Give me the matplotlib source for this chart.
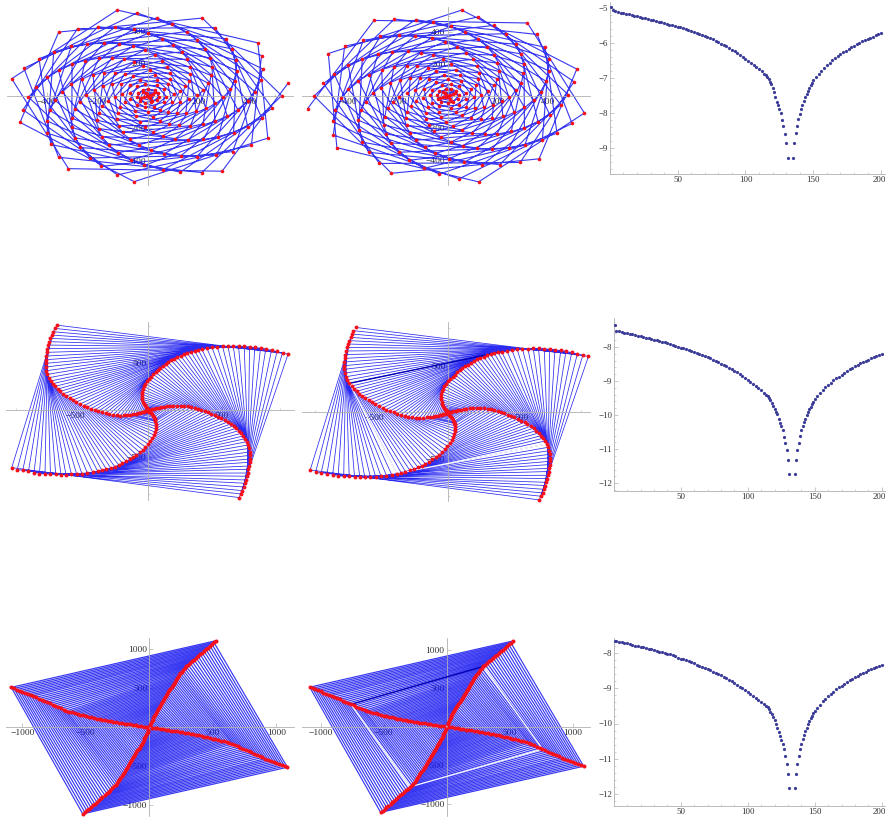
import numpy as np
import matplotlib
matplotlib.use("Agg")
import matplotlib.pyplot as plt
from matplotlib.ticker import FixedLocator
from matplotlib.transforms import ScaledTranslation

plt.rcParams['font.family'] = ['Liberation Serif', 'DejaVu Serif']

# ---------- Row 1, left: arms of the rosette, polar readings (radius, degrees), outer to inner
r1a_E_r = [556,525,494,467,435,405,375,345,315,285,255,225,195,165,135,105,75,45]
r1a_E_d = [8,0,-9,-17,-26,-34,-43,-51,-60,-68,-77,-85,-94,-102,-111,-119,-128,-136]
r1a_S_r = [532,502,473,447,416,388,359,330,301,273,244,215,187,158,129,100,72,43]
r1a_S_d = [-96,-104,-113,-121,-130,-138,-147,-155,-164,-172,-181,-189,-198,-206,-215,-223,-232,-240]
r1a_W_r = [548,518,487,460,429,399,370,340,311,281,251,222,192,163,133,104,74,44]
r1a_W_d = [169,161,152,144,135,127,118,110,101,93,84,76,67,59,50,42,33,25]
r1a_f_r = [523,494,465,439,409,381,353,325,296,268,240,212,183,155,127,99,71,42]
r1a_f_d = [66,58,49,41,32,24,15,7,-2,-10,-19,-27,-36,-44,-53,-61,-70,-78]
r1a_a_r = [538,508,478,452,421,392,363,334,305,276,247,218,189,160,131,102,73,44]
r1a_a_d = [-29,-37,-46,-54,-63,-71,-80,-88,-97,-105,-114,-122,-131,-139,-148,-156,-165,-173]
r1a_c_r = [548,518,487,460,429,399,370,340,311,281,251,222,192,163,133,104,74,44]
r1a_c_d = [-125,-133,-142,-150,-159,-167,-176,-184,-193,-201,-210,-218,-227,-235,-244,-252,-261,-269]
r1a_e_r = [527,498,468,443,412,384,356,327,299,270,242,213,185,156,128,100,71,43]
r1a_e_d = [132,124,115,107,98,90,81,73,64,56,47,39,30,22,13,5,-4,-12]
r1a_g_r = [540,510,480,453,422,393,364,335,306,277,248,218,189,160,131,102,73,44]
r1a_g_d = [37,29,20,12,3,-5,-14,-22,-31,-39,-48,-56,-65,-73,-82,-90,-99,-107]
r1a_b_r = [548,518,487,460,429,399,370,340,311,281,251,222,192,163,133,104,74,44]
r1a_b_d = [-58,-66,-75,-83,-92,-100,-109,-117,-126,-134,-143,-151,-160,-168,-177,-185,-194,-202]
r1a_d_r = [531,501,472,446,415,387,358,329,301,272,244,215,186,158,129,100,72,43]
r1a_d_d = [-162,-170,-179,-187,-196,-204,-213,-221,-230,-238,-247,-255,-264,-272,-281,-289,-298,-306]
r1a_N_r = [541,511,481,454,423,394,365,336,306,277,248,219,190,161,131,102,73,44]
r1a_N_d = [103,95,86,78,69,61,52,44,35,27,18,10,1,-7,-16,-24,-33,-41]

# ---------- Row 1, middle
r1b_A9_r = [566,534,503,475,443,412,382,351,321,290,260,229,199,168,137,107,76,46]
r1b_A9_d = [-172,-180,-189,-197,-206,-214,-223,-231,-240,-248,-257,-265,-274,-282,-291,-299,-308,-316]
r1b_A1_r = [539,509,479,453,422,393,364,334,305,276,247,218,189,160,131,102,73,44]
r1b_A1_d = [84,76,67,59,50,42,33,25,16,8,-1,-9,-18,-26,-35,-43,-52,-60]
r1b_A4_r = [557,526,495,468,436,406,376,346,316,286,256,226,195,165,135,105,75,45]
r1b_A4_d = [-11,-19,-28,-36,-45,-53,-62,-70,-79,-87,-96,-104,-113,-121,-130,-138,-147,-155]
r1b_A7_r = [532,502,473,447,416,388,359,330,301,273,244,215,187,158,129,100,72,43]
r1b_A7_d = [-115,-123,-132,-140,-149,-157,-166,-174,-183,-191,-200,-208,-217,-225,-234,-242,-251,-259]
r1b_A10_r = [546,516,485,459,427,398,368,339,309,280,250,221,191,162,133,103,74,44]
r1b_A10_d = [151,143,134,126,117,109,100,92,83,75,66,58,49,41,32,24,15,7]
r1b_A2_r = [556,525,494,467,435,405,375,345,315,285,255,225,195,165,135,105,75,45]
r1b_A2_d = [55,47,38,30,21,13,4,-4,-13,-21,-30,-38,-47,-55,-64,-72,-81,-89]
r1b_A5_r = [536,506,476,450,419,390,362,333,304,275,246,217,188,159,130,101,72,43]
r1b_A5_d = [-47,-55,-64,-72,-81,-89,-98,-106,-115,-123,-132,-140,-149,-157,-166,-174,-183,-191]
r1b_A8_r = [548,518,487,460,429,399,370,340,311,281,251,222,192,163,133,104,74,44]
r1b_A8_d = [-144,-152,-161,-169,-178,-186,-195,-203,-212,-220,-229,-237,-246,-254,-263,-271,-280,-288]
r1b_A11_r = [556,525,494,467,435,405,375,345,315,285,255,225,195,165,135,105,75,45]
r1b_A11_d = [122,114,105,97,88,80,71,63,54,46,37,29,20,12,3,-5,-14,-22]
r1b_A3_r = [543,513,482,456,425,396,366,337,308,278,249,220,190,161,132,103,73,44]
r1b_A3_d = [18,10,1,-7,-16,-24,-33,-41,-50,-58,-67,-75,-84,-92,-101,-109,-118,-126]
r1b_A6_r = [550,519,489,462,430,401,371,341,312,282,252,223,193,163,134,104,74,45]
r1b_A6_d = [-77,-85,-94,-102,-111,-119,-128,-136,-145,-153,-162,-170,-179,-187,-196,-204,-213,-221]

core_x = [28,-20,-30,15,20,-10,-18,8,10,-6,-7,3,0]
core_y = [20,25,-15,-30,12,18,-8,-16,6,8,-4,-6,0]

# ---------- Row 2: four arms, tip to centre
r2_NW_x = [-624,-638,-649,-658,-667,-674,-681,-688,-692,-697,-699,-699,-699,-695,-688,-679,-665,-651,-636,-617,-599,-579,-558,-536,-513,-490,-465,-440,-415,-390,-365,-341,-316,-291,-266,-241,-216,-191,-166,-143,-123,-102,-84,-68,-54,-41,-30,-20,-11,-5]
r2_NW_y = [910,875,839,803,768,732,696,657,618,578,539,500,461,421,382,346,311,282,253,225,200,175,150,129,107,86,64,46,29,14,0,-14,-25,-36,-46,-54,-57,-61,-57,-54,-50,-46,-39,-36,-29,-25,-18,-14,-7,-4]
r2_NE_x = [953,915,878,840,801,765,726,690,654,615,579,543,506,470,434,400,365,341,316,291,266,243,220,197,177,157,136,118,100,82,66,50,34,18,2,-11,-23,-32,-39,-43,-45,-45,-41,-36,-30,-23,-16,-11,-7,-2]
r2_NE_y = [600,614,628,643,657,664,671,678,682,685,685,682,682,675,671,660,650,643,632,621,610,596,582,568,550,532,510,493,471,450,428,403,382,357,332,307,282,253,225,196,168,139,114,89,68,50,36,25,18,11]
r2_SE_x = [620,633,642,649,658,665,672,679,683,688,692,695,695,692,688,681,672,661,647,633,617,599,581,561,540,520,497,474,452,429,406,384,361,338,316,293,270,245,220,195,170,148,127,107,89,70,54,39,25,11]
r2_SE_y = [-939,-900,-864,-825,-785,-750,-710,-675,-635,-600,-560,-525,-486,-450,-411,-375,-339,-307,-278,-250,-221,-196,-171,-150,-129,-107,-89,-71,-54,-39,-25,-11,4,14,25,32,39,43,46,46,46,43,39,32,29,25,18,14,7,4]
r2_SW_x = [-931,-894,-856,-817,-779,-742,-704,-667,-631,-595,-561,-524,-488,-452,-415,-379,-345,-316,-286,-257,-229,-202,-177,-152,-127,-104,-82,-59,-39,-20,-2,14,27,39,45,50,52,52,48,45,43,36,30,23,16,11,7,5,2,0]
r2_SW_y = [-618,-639,-646,-657,-671,-682,-682,-685,-689,-693,-696,-689,-689,-685,-678,-668,-657,-646,-635,-621,-607,-589,-571,-550,-528,-503,-478,-453,-425,-396,-364,-332,-300,-268,-236,-203,-175,-146,-121,-111,-100,-79,-61,-46,-36,-25,-18,-11,-7,-4]
r2_marked_ring = 16

# ---------- Row 3: two arms, tip to centre (the other two are their point reflections)
r3_A_x = [524,509,493,478,462,446,431,415,400,384,369,352,336,321,306,291,278,266,255,245,236,227,218,210,201,192,183,175,166,158,150,142,134,127,119,111,102,93,84,75,66,58,51,45,38,32,26,20,14,8]
r3_A_y = [1110,1088,1066,1044,1022,1000,978,956,934,912,890,868,846,824,802,780,758,736,714,692,670,648,626,604,582,560,538,516,494,472,450,428,406,384,362,340,318,296,274,252,230,208,186,164,142,120,98,76,54,32]
r3_B_x = [-1087,-1065,-1043,-1021,-1000,-978,-956,-934,-913,-891,-869,-847,-826,-804,-782,-760,-739,-717,-695,-673,-652,-630,-608,-586,-565,-543,-521,-499,-478,-456,-434,-412,-391,-369,-347,-325,-304,-282,-260,-238,-217,-195,-173,-151,-130,-108,-86,-64,-43,-21]
r3_B_y = [512,498,484,470,456,442,428,415,402,385,369,353,338,322,306,290,275,259,243,227,211,200,190,181,172,163,154,145,136,128,120,112,105,98,91,84,77,71,65,59,53,47,42,37,32,26,20,15,10,5]
r3_marked_ring = 15

# ---------- Right column: log error against iteration
iter_x = [1,2,4,6,8,10,12,14,16,18,20,22,24,26,28,30,32,34,36,38,40,42,44,46,48,50,52,54,56,58,60,62,64,66,68,70,72,74,76,78,80,82,84,86,88,90,92,94,96,98,100,102,104,106,108,110,112,114,
          115,116,117,118,119,120,121,122,123,124,125,126,127,128,129,130,131,
          135,136,137,138,139,140,141,142,143,144,145,146,147,148,149,150,
          152,154,156,158,160,162,164,166,168,170,172,174,176,178,180,182,184,186,188,190,192,194,196,198,200]
err_1 = [-4.98,-5.07,-5.10,-5.12,-5.14,-5.16,-5.17,-5.19,-5.21,-5.23,-5.25,-5.26,-5.28,-5.30,-5.32,-5.34,-5.36,-5.38,-5.40,-5.42,-5.44,-5.46,-5.48,-5.50,-5.52,-5.54,-5.56,-5.58,-5.61,-5.63,-5.66,-5.68,-5.71,-5.74,-5.77,-5.80,-5.83,-5.87,-5.90,-5.94,-5.98,-6.02,-6.06,-6.10,-6.14,-6.19,-6.24,-6.29,-6.34,-6.40,-6.45,-6.51,-6.57,-6.63,-6.69,-6.74,-6.80,-6.88,
         -6.92,-6.97,-7.03,-7.10,-7.18,-7.27,-7.39,-7.53,-7.67,-7.77,-7.88,-8.00,-8.18,-8.36,-8.58,-8.86,-9.28,
         -9.28,-8.86,-8.56,-8.35,-8.17,-8.01,-7.88,-7.76,-7.65,-7.55,-7.45,-7.36,-7.28,-7.20,-7.13,-7.06,
         -6.97,-6.88,-6.80,-6.72,-6.64,-6.57,-6.50,-6.44,-6.38,-6.32,-6.27,-6.22,-6.17,-6.12,-6.08,-6.04,-6.00,-5.96,-5.92,-5.88,-5.85,-5.82,-5.79,-5.76,-5.73]
err_2 = [-7.36,-7.53,-7.54,-7.56,-7.58,-7.60,-7.62,-7.63,-7.65,-7.67,-7.69,-7.71,-7.73,-7.75,-7.77,-7.79,-7.81,-7.83,-7.85,-7.87,-7.89,-7.91,-7.93,-7.96,-7.99,-8.02,-8.04,-8.07,-8.09,-8.12,-8.15,-8.18,-8.21,-8.24,-8.27,-8.31,-8.34,-8.38,-8.41,-8.45,-8.49,-8.53,-8.57,-8.61,-8.66,-8.70,-8.75,-8.80,-8.85,-8.91,-8.96,-9.02,-9.08,-9.14,-9.21,-9.27,-9.34,-9.41,
         -9.44,-9.50,-9.56,-9.64,-9.72,-9.81,-9.90,-9.98,-10.10,-10.22,-10.32,-10.44,-10.63,-10.81,-11.03,-11.32,-11.72,
         -11.72,-11.32,-11.03,-10.81,-10.62,-10.45,-10.32,-10.20,-10.10,-10.00,-9.92,-9.83,-9.75,-9.68,-9.61,-9.54,
         -9.44,-9.35,-9.27,-9.19,-9.12,-9.05,-8.98,-8.92,-8.87,-8.81,-8.76,-8.71,-8.66,-8.61,-8.57,-8.52,-8.48,-8.44,-8.40,-8.37,-8.33,-8.30,-8.27,-8.24,-8.21]
err_3 = [-7.64,-7.66,-7.68,-7.69,-7.71,-7.72,-7.74,-7.76,-7.78,-7.79,-7.81,-7.83,-7.85,-7.87,-7.89,-7.91,-7.93,-7.95,-7.97,-7.99,-8.01,-8.03,-8.06,-8.09,-8.12,-8.15,-8.17,-8.20,-8.23,-8.26,-8.29,-8.32,-8.35,-8.38,-8.41,-8.45,-8.48,-8.52,-8.55,-8.59,-8.63,-8.67,-8.71,-8.76,-8.80,-8.85,-8.90,-8.95,-9.00,-9.05,-9.10,-9.16,-9.22,-9.28,-9.34,-9.40,-9.45,-9.50,
         -9.54,-9.60,-9.67,-9.74,-9.82,-9.90,-10.01,-10.12,-10.23,-10.36,-10.47,-10.59,-10.74,-10.92,-11.15,-11.45,-11.83,
         -11.83,-11.45,-11.15,-10.93,-10.74,-10.58,-10.45,-10.33,-10.22,-10.12,-10.02,-9.93,-9.85,-9.78,-9.71,-9.65,
         -9.55,-9.46,-9.37,-9.29,-9.22,-9.15,-9.09,-9.03,-8.97,-8.92,-8.87,-8.82,-8.77,-8.72,-8.68,-8.64,-8.60,-8.56,-8.52,-8.48,-8.45,-8.42,-8.39,-8.36,-8.33]

# ---------- styling
W, H = 887, 817
BLUE = '#1414f0'
RED = '#f5101c'
DOT = '#3c3c99'
AXC = '#b0b0b0'
TXT = '#333333'
fig = plt.figure(figsize=(W / 100, H / 100), dpi=100)


def make_axes(l, r, t, b, ox, oy, sx, sy):
    ax = fig.add_axes([l / W, 1 - b / H, (r - l) / W, (b - t) / H])
    ax.set_xlim((l - ox) / sx, (r - ox) / sx)
    ax.set_ylim((oy - b) / sy, (oy - t) / sy)
    ax.patch.set_alpha(0)
    for s in ('top', 'right'):
        ax.spines[s].set_visible(False)
    for s in ('left', 'bottom'):
        ax.spines[s].set_color(AXC)
        ax.spines[s].set_linewidth(0.6)
    ax.set_axisbelow(True)
    return ax


def style_ticks(ax, xmaj, ymaj, xmin, ymin):
    ax.xaxis.set_major_locator(FixedLocator(xmaj))
    ax.yaxis.set_major_locator(FixedLocator(ymaj))
    ax.xaxis.set_minor_locator(FixedLocator(xmin))
    ax.yaxis.set_minor_locator(FixedLocator(ymin))
    ax.tick_params(which='major', direction='in', length=3, width=0.5, color=AXC, labelsize=6.8,
                   labelcolor=TXT, pad=1.5)
    ax.tick_params(which='minor', direction='in', length=1.5, width=0.4, color=AXC)


def centre_axes(*geom, xmaj, ymaj, xmin, ymin):
    ax = make_axes(*geom)
    ax.spines['left'].set_position(('data', 0))
    ax.spines['bottom'].set_position(('data', 0))
    style_ticks(ax, xmaj, ymaj, xmin, ymin)
    return ax


def polar_path(arms):
    xs, ys = [], []
    for j in range(len(arms[0][0])):
        for r, d in arms:
            t = np.deg2rad(d[j])
            xs.append(r[j] * np.cos(t))
            ys.append(r[j] * np.sin(t))
    return np.array(xs + core_x), np.array(ys + core_y)


def draw_path(ax, xs, ys, lw, ms, alpha=0.85):
    ax.plot(xs, ys, color=BLUE, lw=lw, alpha=alpha, zorder=2, clip_on=False, solid_joinstyle='miter')
    ax.plot(xs, ys, ls='none', marker='o', ms=ms, color=RED, mew=0, zorder=5, clip_on=False)


def ring_path(arms):
    xs, ys = [], []
    for j in range(len(arms[0][0])):
        for ax_, ay_ in arms:
            xs.append(ax_[j])
            ys.append(ay_[j])
    return np.array(xs), np.array(ys)


def mark_ring(ax, arms, k, white_sides):
    pts = [(a[0][k], a[1][k]) for a in arms]
    p, q = pts[0], pts[1]
    ax.plot([p[0], q[0]], [p[1], q[1]], color='#0000b4', lw=1.0, zorder=3)
    for i in white_sides:
        p, q = pts[i], pts[(i + 1) % 4]
        ax.plot([p[0], q[0]], [p[1], q[1]], color='white', lw=0.9, zorder=3)


# ---------- row 1
x1, x2 = [-400, -200, 200, 400], [-400, -200, 200, 400]
mn1 = [-500, -300, -100, 100, 300, 500]
ax = centre_axes(7, 293, 7, 185, 148.3, 95.7, 0.254, 0.1625, xmaj=x1, ymaj=x2, xmin=mn1, ymin=mn1)
arms = [(r1a_E_r, r1a_E_d), (r1a_b_r, r1a_b_d), (r1a_c_r, r1a_c_d), (r1a_W_r, r1a_W_d),
        (r1a_N_r, r1a_N_d), (r1a_g_r, r1a_g_d), (r1a_a_r, r1a_a_d), (r1a_S_r, r1a_S_d),
        (r1a_d_r, r1a_d_d), (r1a_e_r, r1a_e_d), (r1a_f_r, r1a_f_d)]
draw_path(ax, *polar_path(arms), 0.8, 2.6)

ax = centre_axes(302, 590, 7, 185, 447.7, 96, 0.25, 0.1603, xmaj=x1, ymaj=x2, xmin=mn1, ymin=mn1)
arms = [(r1b_A9_r, r1b_A9_d), (r1b_A11_r, r1b_A11_d), (r1b_A2_r, r1b_A2_d), (r1b_A4_r, r1b_A4_d),
        (r1b_A6_r, r1b_A6_d), (r1b_A8_r, r1b_A8_d), (r1b_A10_r, r1b_A10_d), (r1b_A1_r, r1b_A1_d),
        (r1b_A3_r, r1b_A3_d), (r1b_A5_r, r1b_A5_d), (r1b_A7_r, r1b_A7_d)]
draw_path(ax, *polar_path(arms), 0.8, 2.6)

# ---------- row 2
r2_arms = [(r2_NW_x, r2_NW_y), (r2_NE_x, r2_NE_y), (r2_SE_x, r2_SE_y), (r2_SW_x, r2_SW_y)]
t2, m2 = [-500, 500], [-900, 900]
ax = centre_axes(6, 294, 322, 500, 148.3, 410, 0.1467, 0.0933, xmaj=t2, ymaj=t2, xmin=m2, ymin=m2)
draw_path(ax, *ring_path(r2_arms), 0.55, 2.8, alpha=0.9)
ax = centre_axes(302, 590, 322, 501, 447.7, 412.3, 0.1477, 0.0933, xmaj=t2, ymaj=t2, xmin=m2, ymin=m2)
draw_path(ax, *ring_path(r2_arms), 0.55, 2.8, alpha=0.9)
mark_ring(ax, r2_arms, r2_marked_ring, [2, 3])

# ---------- row 3
r3_arms = [(r3_A_x, r3_A_y), (r3_B_x, r3_B_y),
           (np.negative(r3_A_x), np.negative(r3_A_y)), (np.negative(r3_B_x), np.negative(r3_B_y))]
t3, m3 = [-1000, -500, 500, 1000], []
ax = centre_axes(6, 294, 638, 816, 149.3, 727.3, 0.127, 0.078, xmaj=t3, ymaj=t3, xmin=m3, ymin=m3)
draw_path(ax, *ring_path(r3_arms), 0.85, 2.9, alpha=0.85)
ax = centre_axes(302, 590, 638, 816, 446.7, 726.7, 0.126, 0.0772, xmaj=t3, ymaj=t3, xmin=m3, ymin=m3)
draw_path(ax, *ring_path(r3_arms), 0.85, 2.9, alpha=0.85)
mark_ring(ax, r3_arms, r3_marked_ring, [1, 2, 3])

# ---------- right column
xt = [50, 100, 150, 200]
xm = [v for v in range(10, 201, 10) if v not in xt]
specs = [
    (err_1, (610, 885, 2, 174.3, 609.8, -168.15, 1.3567, 35.17), [-5, -6, -7, -8, -9],
     [-5.2, -5.4, -5.6, -5.8, -6.2, -6.4, -6.6, -6.8, -7.2, -7.4, -7.6, -7.8, -8.2, -8.4, -8.6, -8.8, -9.2, -9.4, -9.6]),
    (err_2, (614.3, 885, 318, 491, 613.7, 74.1, 1.34, 34.1), [-8, -9, -10, -11, -12],
     [-7.6, -7.8, -8.2, -8.4, -8.6, -8.8, -9.2, -9.4, -9.6, -9.8, -10.2, -10.4, -10.6, -10.8, -11.2, -11.4, -11.6, -11.8, -12.2]),
    (err_3, (614.3, 885, 638, 805.7, 613.7, 372.5, 1.34, 35.1), [-8, -9, -10, -11, -12],
     [-7.8, -8.2, -8.4, -8.6, -8.8, -9.2, -9.4, -9.6, -9.8, -10.2, -10.4, -10.6, -10.8, -11.2, -11.4, -11.6, -11.8, -12.2]),
]
for series, geom, yt, ym in specs:
    ax = make_axes(*geom)
    style_ticks(ax, xt, yt, xm, ym)
    ax.tick_params(which='major', labelsize=6.4)
    ax.plot(iter_x, series, ls='none', marker='o', ms=2.3, color=DOT, mew=0, clip_on=False, zorder=3)
    last = ax.get_xticklabels()[-1]
    last.set_transform(last.get_transform() + ScaledTranslation(-2 / 100, 0, fig.dpi_scale_trans))

fig.savefig('out.png', dpi=100, facecolor='white')
